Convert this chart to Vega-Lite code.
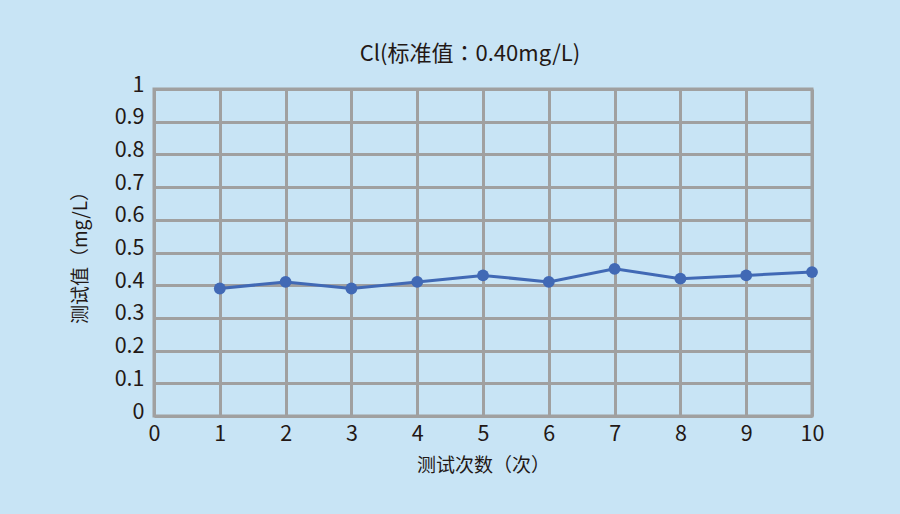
{
  "$schema": "https://vega.github.io/schema/vega-lite/v6.json",
  "autosize": "none",
  "width": 658,
  "height": 327,
  "padding": {"left": 154, "top": 89, "right": 88, "bottom": 98},
  "background": "#c8e4f5",
  "title": {
    "text": "Cl(标准值：0.40mg/L)",
    "font": "Noto Sans CJK JP",
    "fontSize": 22,
    "fontWeight": "normal",
    "color": "#231815",
    "anchor": "middle",
    "dx": -13,
    "offset": 8
  },
  "config": {
    "view": {"stroke": "#a0a0a0", "strokeWidth": 3},
    "axis": {
      "labelFont": "Noto Sans CJK SC",
      "titleFont": "Noto Sans CJK SC",
      "labelFontSize": 21.5,
      "titleFontSize": 19,
      "titleFontWeight": "normal",
      "labelColor": "#231815",
      "titleColor": "#231815",
      "domain": false,
      "ticks": false,
      "grid": true,
      "gridColor": "#a0a0a0",
      "gridWidth": 3,
      "gridOpacity": 1
    }
  },
  "data": {
    "values": [
      {"n": 1, "v": 0.39},
      {"n": 2, "v": 0.41},
      {"n": 3, "v": 0.39},
      {"n": 4, "v": 0.41},
      {"n": 5, "v": 0.43},
      {"n": 6, "v": 0.41},
      {"n": 7, "v": 0.45},
      {"n": 8, "v": 0.42},
      {"n": 9, "v": 0.43},
      {"n": 10, "v": 0.44}
    ]
  },
  "encoding": {
    "x": {
      "field": "n",
      "type": "quantitative",
      "scale": {"domain": [0, 10], "nice": false},
      "axis": {"values": [0,1,2,3,4,5,6,7,8,9,10], "title": "测试次数（次）", "labelPadding": 7, "titlePadding": 12, "labelFlush": false}
    },
    "y": {
      "field": "v",
      "type": "quantitative",
      "scale": {"domain": [0, 1], "nice": false},
      "axis": {"values": [0,0.1,0.2,0.3,0.4,0.5,0.6,0.7,0.8,0.9,1], "format": "~g", "title": "测试值（mg/L）", "labelPadding": 10, "labelOffset": -4, "titlePadding": 24, "labelFlush": false}
    }
  },
  "layer": [
    {"mark": {"type": "line", "color": "#4169b5", "strokeWidth": 3}},
    {"mark": {"type": "point", "filled": true, "color": "#4169b5", "size": 140, "opacity": 1}}
  ]
}
